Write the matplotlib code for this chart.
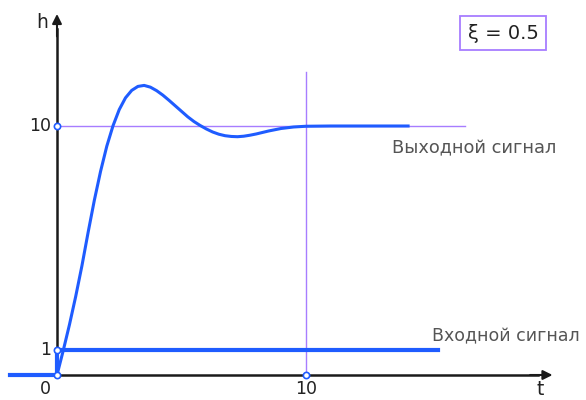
import matplotlib
matplotlib.use('Agg')
import matplotlib.pyplot as plt

OUTPUT_FILE = "out.png"

# Output signal h(t), second-order link with xi = 0.5
T_OUT = [0, 0.25, 0.5, 0.75, 1.0, 1.25, 1.5, 1.75, 2.0, 2.25, 2.5, 2.75,
         3.0, 3.25, 3.5, 3.75, 4.0, 4.25, 4.5, 4.75, 5.0, 5.25, 5.5, 5.75,
         6.0, 6.25, 6.5, 6.75, 7.0, 7.25, 7.5, 7.75, 8.0, 8.5, 9.0, 9.5,
         10.0, 11.0, 12.0, 13.0, 14.1]
H_OUT = [0, 0.98, 2.02, 3.15, 4.38, 5.73, 7.02, 8.18, 9.19, 10.01, 10.66, 11.13,
         11.43, 11.59, 11.63, 11.56, 11.42, 11.24, 11.03, 10.81, 10.59, 10.37, 10.18, 10.02,
         9.88, 9.76, 9.67, 9.61, 9.58, 9.57, 9.59, 9.63, 9.68, 9.80, 9.90, 9.96,
         9.99, 10.0, 10.0, 10.0, 10.0]

# Input signal: unit step
T_IN = [-1.9, 0, 0, 15.3]
H_IN = [0, 0, 1, 1]

STEADY = 10
T_MARK = 10
XI = 0.5

# Points marked on the axes
MARK_T = [0, 0, 0, 10]
MARK_H = [0, 1, 10, 0]

BLUE = "#1f5cff"
PURPLE = "#a77dff"
AXIS = "#1a1a1a"
TEXT = "#222222"

# 24.9 px per unit on both axes, origin at pixel (57, 375)
PX = 24.9
W, H = 586, 400
X0, Y0 = 57, 375


def visualize():
    fig = plt.figure(figsize=(W / 100, H / 100), dpi=100)
    ax = fig.add_axes([0, 0, 1, 1])
    ax.set_xlim(-X0 / PX, (W - X0) / PX)
    ax.set_ylim(-(H - Y0) / PX, Y0 / PX)
    ax.axis("off")

    # Guide lines for steady value and t = 10
    ax.plot([0, 16.4], [STEADY, STEADY], color=PURPLE, lw=1.0, zorder=1)
    ax.plot([T_MARK, T_MARK], [0, 12.17], color=PURPLE, lw=1.0, zorder=1)

    # Axes with arrows
    ax.plot([0, 0], [0, 13.9], color=AXIS, lw=1.8, zorder=2)
    ax.plot([0, 19.3], [0, 0], color=AXIS, lw=1.8, zorder=2)
    ax.annotate("", xy=(0, 14.5), xytext=(0, 13.6),
                arrowprops=dict(arrowstyle="-|>", color=AXIS, lw=1.5,
                                mutation_scale=14, shrinkA=0, shrinkB=0))
    ax.annotate("", xy=(19.9, 0), xytext=(19.0, 0),
                arrowprops=dict(arrowstyle="-|>", color=AXIS, lw=1.5,
                                mutation_scale=14, shrinkA=0, shrinkB=0))

    # Signals
    ax.plot(T_IN, H_IN, color=BLUE, lw=3.0, solid_joinstyle="miter", zorder=3)
    ax.plot(T_OUT, H_OUT, color=BLUE, lw=2.2, zorder=4)

    ax.plot(MARK_T, MARK_H, ls="none", marker="o", ms=4.5, mfc="white",
            mec=BLUE, mew=1.2, zorder=5)

    # Axis labels and ticks
    fs = 12.5
    ax.text(-0.25, 10, "10", ha="right", va="center", fontsize=fs, color=TEXT)
    ax.text(-0.25, 1, "1", ha="right", va="center", fontsize=fs, color=TEXT)
    ax.text(-0.45, -0.58, "0", ha="center", va="center", fontsize=fs, color=TEXT)
    ax.text(10, -0.55, "10", ha="center", va="center", fontsize=fs, color=TEXT)
    ax.text(-0.36, 14.14, "h", ha="right", va="center", fontsize=fs + 1, color=TEXT)
    ax.text(19.4, -0.6, "t", ha="center", va="center", fontsize=fs + 1, color=TEXT)

    ax.text(13.45, 9.1, "Выходной сигнал", ha="left", va="center",
            fontsize=12.8, color="#555555")
    ax.text(15.05, 1.55, "Входной сигнал", ha="left", va="center",
            fontsize=12.5, color="#555555")

    ax.text(17.91, 13.72, f"ξ = {XI}", ha="center", va="center", fontsize=14,
            color=TEXT,
            bbox=dict(boxstyle="square,pad=0.38", fc="white", ec=PURPLE, lw=1.3))

    fig.savefig(OUTPUT_FILE, dpi=100, facecolor="white")


if __name__ == "__main__":
    visualize()
